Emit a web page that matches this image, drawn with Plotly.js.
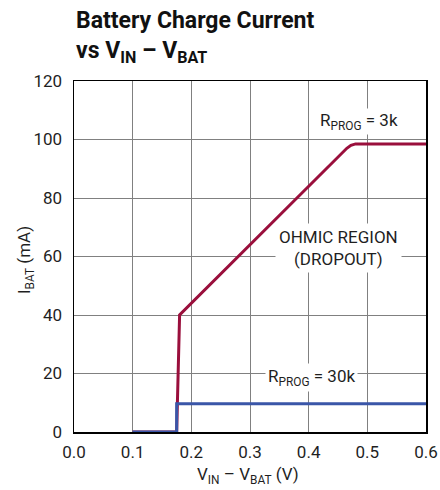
<!DOCTYPE html>
<html><head><meta charset="utf-8">
<script src="https://cdn.plot.ly/plotly-3.0.1.min.js"></script>
<style>body{margin:0;background:#fff}#c{width:440px;height:490px}</style>
</head><body><div id="c"></div>
<script>
// R_PROG = 3k curve
const v3k = [0.10, 0.175, 0.18, 0.278, 0.369, 0.409, 0.455, 0.465, 0.472, 0.480, 0.60];
const i3k = [0, 0, 40, 59.7, 78.0, 86.1, 95.3, 97.0, 98.0, 98.5, 98.5];
// R_PROG = 30k curve
const v30k = [0.10, 0.175, 0.175, 0.60];
const i30k = [0, 0, 9.7, 9.7];
const xTicks = [0, 0.1, 0.2, 0.3, 0.4, 0.5, 0.6];
const xTickText = ['0.0', '0.1', '0.2', '0.3', '0.4', '0.5', '0.6'];
const yTicks = [0, 20, 40, 60, 80, 100, 120];

const FONT = 'Roboto, "Liberation Sans Narrow", sans-serif';
const TXT = '#1f1f1f';

const traces = [
  {x: v3k, y: i3k, mode: 'lines', line: {color: '#9a0f3c', width: 3}, hoverinfo: 'skip'},
  {x: v30k, y: i30k, mode: 'lines', line: {color: '#3a56a8', width: 3}, hoverinfo: 'skip'}
];

const layout = {
  width: 440, height: 490,
  margin: {l: 74, r: 14, t: 81, b: 58},
  paper_bgcolor: '#fff', plot_bgcolor: '#fff',
  showlegend: false,
  font: {family: FONT, size: 17, color: TXT},
  xaxis: {
    range: [0, 0.6], tickvals: xTicks, ticktext: xTickText,
    showgrid: true, gridcolor: '#808080', gridwidth: 1,
    zeroline: false, showline: true, linecolor: '#000', linewidth: 1.5, mirror: true,
    ticks: 'outside', ticklen: 4, tickcolor: 'rgba(0,0,0,0)',
    tickfont: {family: FONT, size: 17, color: TXT}
  },
  yaxis: {
    range: [0, 120], tickvals: yTicks,
    showgrid: true, gridcolor: '#808080', gridwidth: 1,
    zeroline: false, showline: true, linecolor: '#000', linewidth: 1.5, mirror: true,
    ticks: 'outside', ticklen: 7, tickcolor: 'rgba(0,0,0,0)',
    tickfont: {family: FONT, size: 17, color: TXT}
  },
  annotations: [
    {x: 0, y: 1, xref: 'paper', yref: 'paper', xanchor: 'left', yanchor: 'top', yshift: 76, align: 'left',
     text: '<b>Battery Charge Current<br>vs V<sub>IN</sub> – V<sub>BAT</sub></b>', showarrow: false,
     font: {family: FONT, size: 23, color: '#111'}},
    {x: 0.494, y: 0, xref: 'paper', yref: 'paper', yanchor: 'middle', yshift: -43,
     text: 'V<sub>IN</sub> – V<sub>BAT</sub> (V)', showarrow: false, font: {family: FONT, size: 17, color: TXT}},
    {x: 0, y: 0.49, xref: 'paper', yref: 'paper', xanchor: 'center', xshift: -49, textangle: -90,
     text: 'I<sub>BAT</sub> (mA)', showarrow: false, font: {family: FONT, size: 17, color: TXT}},
    {x: 0.485, y: 106, xref: 'x', yref: 'y', text: 'R<sub>PROG</sub> = 3k', showarrow: false,
     font: {family: FONT, size: 17, color: TXT}, bgcolor: '#fff', borderpad: 1},
    {x: 0.45, y: 63, xref: 'x', yref: 'y', text: 'OHMIC REGION<br>(DROPOUT)', showarrow: false,
     font: {family: FONT, size: 17, color: TXT}, bgcolor: '#fff', borderpad: 3},
    {x: 0.405, y: 18.5, xref: 'x', yref: 'y', text: 'R<sub>PROG</sub> = 30k', showarrow: false,
     font: {family: FONT, size: 17, color: TXT}, bgcolor: '#fff', borderpad: 2}
  ]
};

Plotly.newPlot('c', traces, layout, {displayModeBar: false, staticPlot: true});
</script></body></html>
